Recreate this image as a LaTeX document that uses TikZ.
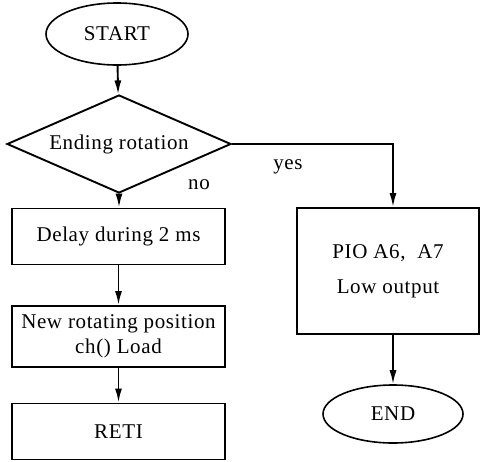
\documentclass[tikz,border=0pt]{standalone}
\usepackage{fontspec}
\setmainfont{Liberation Serif}[LetterSpace=3]
\usetikzlibrary{shapes.geometric,arrows.meta}
\begin{document}
\begin{tikzpicture}[x=1pt,y=-1pt,
  every node/.style={font=\fontsize{21}{25}\selectfont},
  term/.style={draw,ellipse,line width=1.6pt,inner sep=0pt},
  proc/.style={draw,rectangle,line width=1.9pt,inner sep=0pt,align=center},
  dec/.style={draw,diamond,aspect=2.3,line width=1.9pt,inner sep=0pt},
  flow/.style={line width=1.9pt,-{Latex[length=14pt,width=7pt]}},
  lbl/.style={inner sep=0pt}]
\useasboundingbox (0,0) rectangle (481,461);
\node[term,minimum width=142pt,minimum height=62pt] (start) at (117,34) {START};
\node[dec,minimum width=224pt,minimum height=98pt] (cond) at (119,144) {Ending rotation};
\node[proc,minimum width=213pt,minimum height=56pt] (delay) at (118.5,236.5) {Delay during 2 ms};
\node[proc,minimum width=213pt,minimum height=61pt] (load) at (118.5,336.5) {New rotating position\\ch() Load};
\node[proc,minimum width=213pt,minimum height=56pt] (reti) at (118.5,431.5) {RETI};
\node[proc,minimum width=182pt,minimum height=126pt,font=\fontsize{21}{35}\selectfont] (pio) at (388,271) {PIO A6,\ \ A7\\Low output};
\node[term,minimum width=140pt,minimum height=58pt] (end) at (393,414) {END};
\node[lbl] (yes) at (288,167) {yes};
\node[lbl] (no) at (199,185) {no};
\draw[flow] (start) -- (cond);
\draw[flow] (cond.south) -- (cond.south |- delay.north);
\draw[flow] (delay) -- (load);
\draw[flow] (load) -- (reti);
\draw[flow] (cond.east) -| (end.north |- pio.north);
\draw[flow] (end.north |- pio.south) -- (end.north);
\end{tikzpicture}
\end{document}
